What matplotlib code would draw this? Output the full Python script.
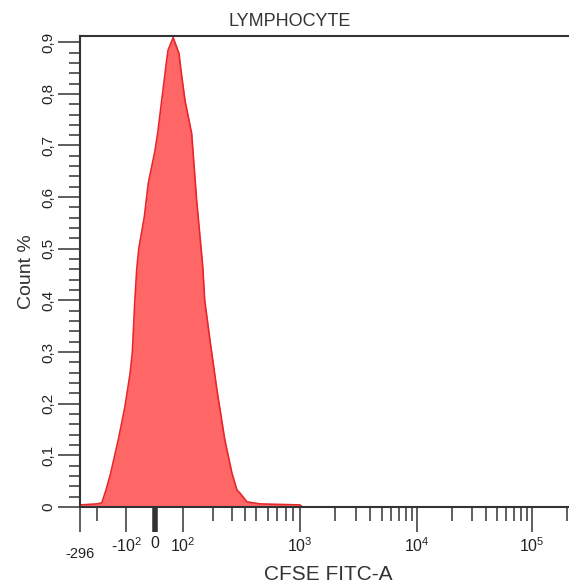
import numpy as np
import matplotlib
matplotlib.use('Agg')
import matplotlib.pyplot as plt
from matplotlib.ticker import FixedLocator, FixedFormatter

plt.rcParams['font.family'] = ['Liberation Sans', 'DejaVu Sans']
plt.rcParams['mathtext.fontset'] = 'custom'
plt.rcParams['mathtext.rm'] = 'Liberation Sans'

# histogram outline (CFSE value, count %)
cfse = [-296, -200, -179, -162, -145, -121, -103, -79, -69, -66, -59, -52, -45, -28, -17,
        0, 7, 29, 36, 54, 79, 89, 105, 123, 138, 148, 159, 166, 187, 218, 258,
        300, 334, 356, 413, 532, 730, 1000, 1050]
count = [0.004, 0.006, 0.008, 0.033, 0.066, 0.13, 0.193, 0.259, 0.30, 0.33, 0.40, 0.46, 0.50, 0.561, 0.627,
         0.69, 0.724, 0.85, 0.884, 0.909, 0.878, 0.845, 0.787, 0.723, 0.594, 0.53, 0.464, 0.40, 0.323, 0.226, 0.13,
         0.066, 0.033, 0.027, 0.01, 0.006, 0.005, 0.004, 0.0]

x_major = [-296, -100, 0, 100, 1000, 10000, 100000]
x_labels = ['-296', r'-$\mathregular{10^2}$', '0', r'$\mathregular{10^2}$',
            r'$\mathregular{10^3}$', r'$\mathregular{10^4}$', r'$\mathregular{10^5}$']
y_major = [0, 0.1, 0.2, 0.3, 0.4, 0.5, 0.6, 0.7, 0.8, 0.9]
y_labels = ['0', '0,1', '0,2', '0,3', '0,4', '0,5', '0,6', '0,7', '0,8', '0,9']

# logicle-like display scale: knots of the axis (value -> position)
knot_val = np.array([-296, -200, -100, 0, 100, 200, 500, 1000, 1e4, 1e5, 262144])
knot_pos = np.array([80, 97, 126, 155, 183, 213, 256, 300, 417, 532, 580], dtype=float)
knot_h = np.arcsinh(knot_val / 50.0)


def fwd(x):
    return np.interp(np.arcsinh(np.asarray(x, dtype=float) / 50.0), knot_h, knot_pos)


def inv(p):
    return 50.0 * np.sinh(np.interp(np.asarray(p, dtype=float), knot_pos, knot_h))


W, H = 569, 588
fig = plt.figure(figsize=(W / 100, H / 100), dpi=100)
ax = fig.add_axes([80 / W, (H - 507) / H, 500 / W, (507 - 36) / H])
ax.set_xscale('function', functions=(fwd, inv))
ax.set_xlim(-296, 262144)
ax.set_ylim(0, 0.912)

ax.fill_between(cfse, count, color='#ff6666', lw=0)
ax.plot(cfse, count, color='#e8262b', lw=1.2)

x_minor = [-200] + [k * 100 for k in range(2, 10)] + [k * 1000 for k in range(2, 10)] \
    + [k * 10000 for k in range(2, 10)] + [200000]
ax.xaxis.set_major_locator(FixedLocator(x_major))
ax.xaxis.set_major_formatter(FixedFormatter(x_labels))
ax.xaxis.set_minor_locator(FixedLocator(x_minor))
ax.yaxis.set_major_locator(FixedLocator(y_major))
ax.yaxis.set_major_formatter(FixedFormatter(y_labels))
ax.yaxis.set_minor_locator(FixedLocator(np.arange(0.02, 0.92, 0.02)))

ax.tick_params(which='major', direction='out', length=18, width=1.1, color='#333333',
               labelsize=11.5, pad=3, labelcolor='#222222')
ax.tick_params(which='minor', direction='out', length=10, width=1.1, color='#333333')
ax.tick_params(axis='y', which='major', length=16, labelsize=11, labelrotation=90, pad=2)
ax.tick_params(axis='y', which='minor', length=8)
for lab in ax.get_yticklabels():
    lab.set_va('center')

xticks = ax.xaxis.get_major_ticks()
xticks[2].tick1line.set_markeredgewidth(4)
xticks[2].tick1line.set_color('black')
xticks[0].set_pad(11)
xticks[0].label1.set_fontsize(10.5)

for s in ax.spines.values():
    s.set_color('#333333')
    s.set_linewidth(1.5)

ax.set_ylabel('Count %', fontsize=14, labelpad=4, color='#333333')
fig.text(328 / W, (H - 575) / H, 'CFSE FITC-A', ha='center', va='center', fontsize=15,
         color='#333333')
fig.text(290 / W, (H - 21) / H, 'LYMPHOCYTE', ha='center', va='center', fontsize=13,
         color='#333333')

fig.savefig('out.png', dpi=100)
